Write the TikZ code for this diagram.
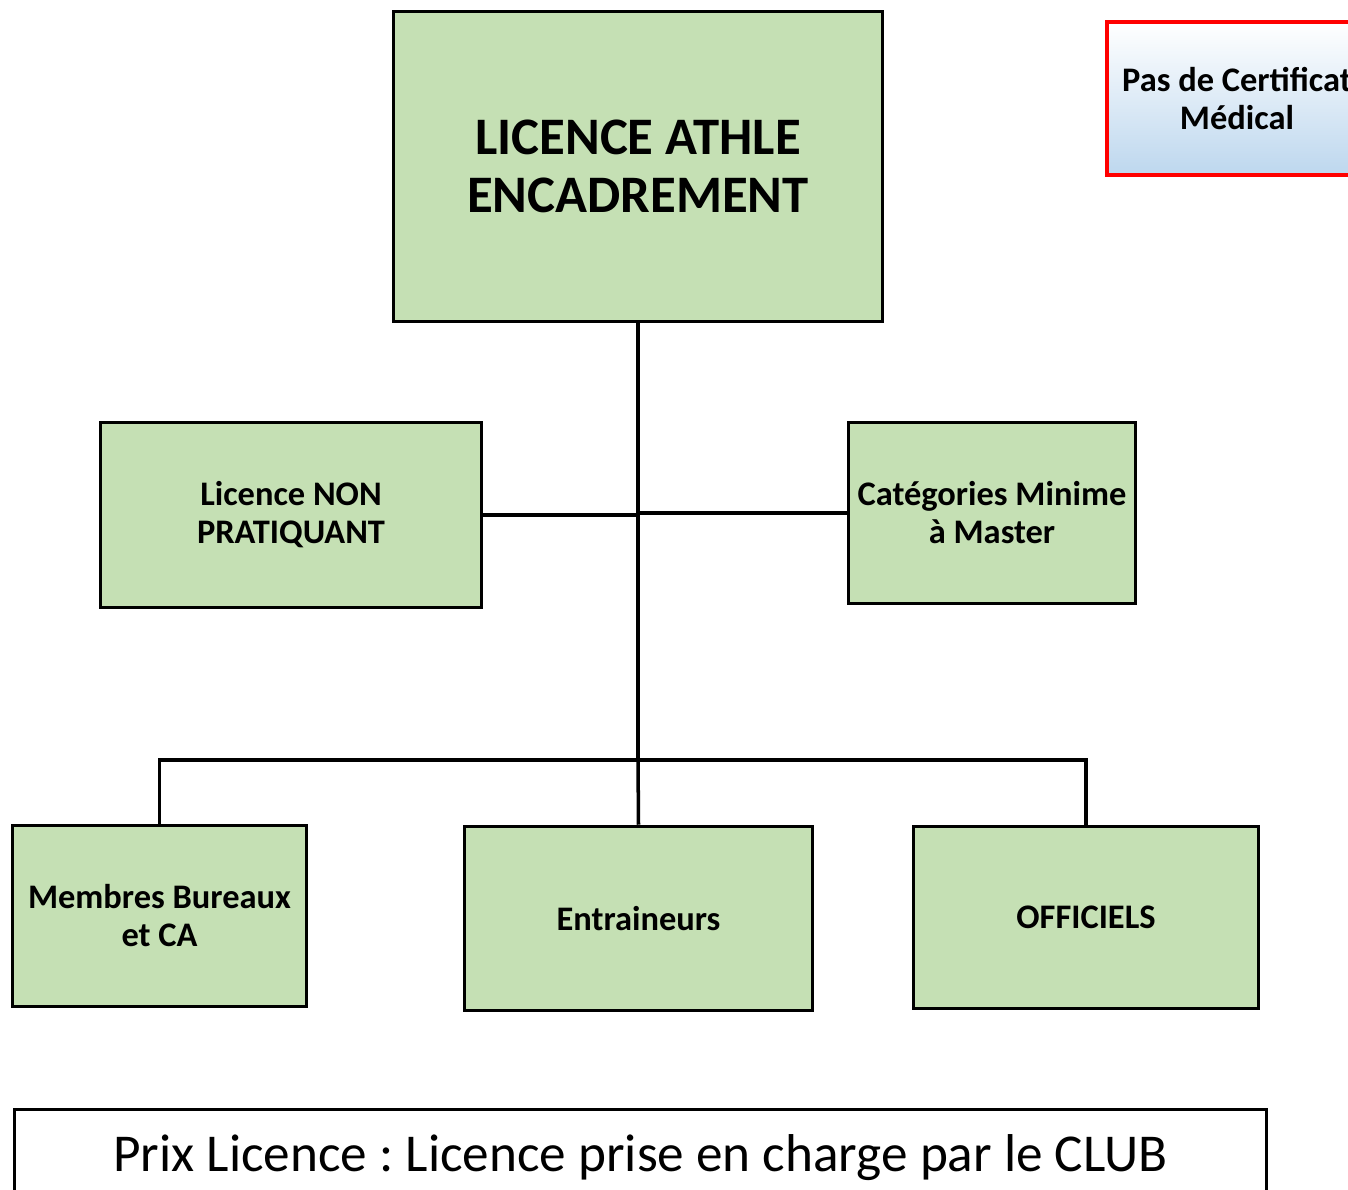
\documentclass[tikz,border=0pt]{standalone}
\usepackage{fontspec}
\setmainfont{Carlito}
\frenchspacing
\definecolor{boxgreen}{HTML}{C5E0B4}
\definecolor{paleblue}{HTML}{BDD7EE}
\tikzset{
  greenbox/.style={draw=black,line width=1pt,fill=boxgreen,align=center,font=\bfseries\fontsize{9.8}{10.8}\selectfont,inner sep=0pt},
  link/.style={line width=1pt}
}
\begin{document}
\begin{tikzpicture}
\useasboundingbox (0,0) rectangle (13.48,-11.90);
\node[greenbox,minimum width=4.89cm,minimum height=3.10cm,font=\bfseries\fontsize{15}{16.4}\selectfont] (athle) at (6.38,-1.665) {LICENCE ATHLE\\ENCADREMENT};
\node[greenbox,minimum width=3.81cm,minimum height=1.85cm] (nonprat) at (2.91,-5.15) {Licence NON\\PRATIQUANT};
\node[greenbox,minimum width=2.87cm,minimum height=1.81cm] (categ) at (9.92,-5.13) {Catégories Minime\\à Master};
\node[greenbox,minimum width=2.94cm,minimum height=1.81cm] (bureau) at (1.595,-9.16) {Membres Bureaux\\et CA};
\node[greenbox,minimum width=3.48cm,minimum height=1.84cm] (entrain) at (6.385,-9.185) {Entraineurs};
\node[greenbox,minimum width=3.45cm,minimum height=1.82cm] (officiels) at (10.86,-9.175) {OFFICIELS};
\node[draw=red,line width=1.2pt,top color=white,bottom color=paleblue,minimum width=2.60cm,minimum height=1.53cm,align=center,font=\bfseries\fontsize{9.8}{10.8}\selectfont] (certif) at (12.37,-0.985) {Pas de Certificat\\Médical};
\node[draw=black,line width=1pt,minimum width=12.52cm,minimum height=0.97cm,font=\fontsize{15.15}{18}\selectfont] (prix) at (6.405,-11.58) {Prix Licence : Licence prise en charge par le CLUB};
\coordinate (bus) at (6.38,-7.60);
% liaisons
\draw[link] (athle.south) -- (bus);
\draw[link] (nonprat.east) -- (nonprat.east -| athle.south);
\draw[link] (categ.west) -- (categ.west -| athle.south);
\draw[link] (bureau.north) |- (bus) -| (officiels.north);
\draw[link] (bus) -- (entrain.north);
\end{tikzpicture}
\end{document}
